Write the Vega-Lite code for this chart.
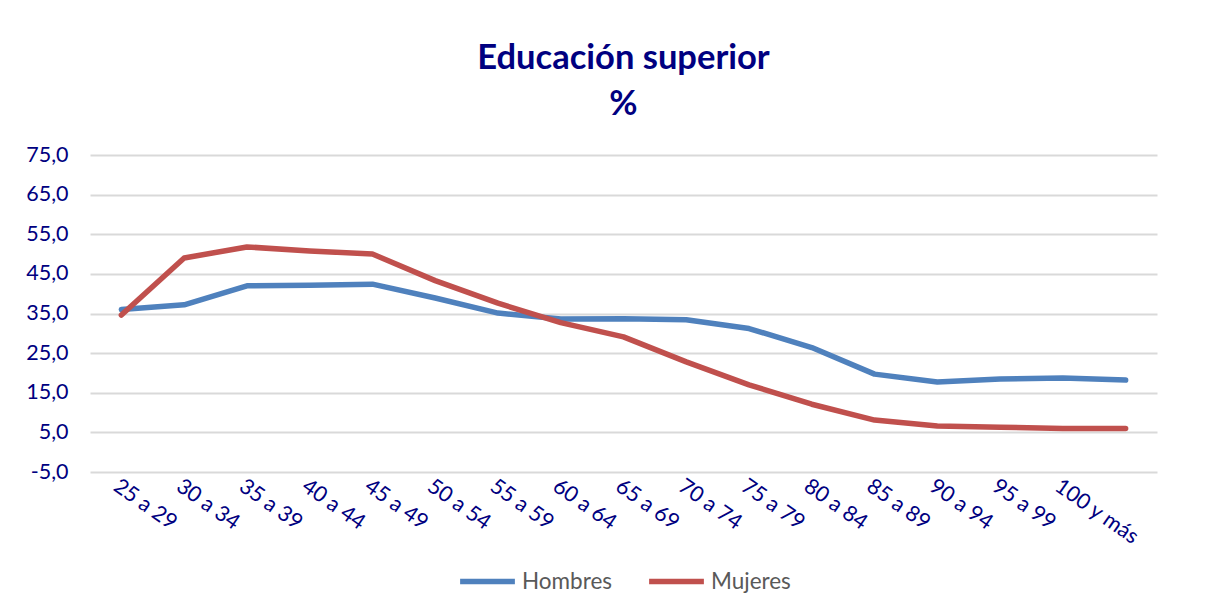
{
  "$schema": "https://vega.github.io/schema/vega-lite/v6.json",
  "autosize": {"type": "none"},
  "padding": {"left": 90, "top": 155, "right": 70, "bottom": 143},
  "width": 1067,
  "height": 317,
  "background": "white",
  "title": {
    "text": ["Educación superior", "%"],
    "font": "Lato",
    "fontSize": 34.5,
    "fontWeight": "bold",
    "color": "#000080",
    "lineHeight": 46,
    "anchor": "middle",
    "offset": 22
  },
  "data": {
    "values": [
      {"edad": "25 a 29", "sexo": "Hombres", "valor": 36.0},
      {"edad": "30 a 34", "sexo": "Hombres", "valor": 37.2},
      {"edad": "35 a 39", "sexo": "Hombres", "valor": 42.0},
      {"edad": "40 a 44", "sexo": "Hombres", "valor": 42.1},
      {"edad": "45 a 49", "sexo": "Hombres", "valor": 42.4},
      {"edad": "50 a 54", "sexo": "Hombres", "valor": 38.9},
      {"edad": "55 a 59", "sexo": "Hombres", "valor": 35.1},
      {"edad": "60 a 64", "sexo": "Hombres", "valor": 33.6},
      {"edad": "65 a 69", "sexo": "Hombres", "valor": 33.7},
      {"edad": "70 a 74", "sexo": "Hombres", "valor": 33.4},
      {"edad": "75 a 79", "sexo": "Hombres", "valor": 31.2},
      {"edad": "80 a 84", "sexo": "Hombres", "valor": 26.4},
      {"edad": "85 a 89", "sexo": "Hombres", "valor": 19.7},
      {"edad": "90 a 94", "sexo": "Hombres", "valor": 17.7},
      {"edad": "95 a 99", "sexo": "Hombres", "valor": 18.5},
      {"edad": "100 y más", "sexo": "Hombres", "valor": 18.7},
      {"edad": "", "sexo": "Hombres", "valor": 18.2},
      {"edad": "25 a 29", "sexo": "Mujeres", "valor": 34.6},
      {"edad": "30 a 34", "sexo": "Mujeres", "valor": 49.0},
      {"edad": "35 a 39", "sexo": "Mujeres", "valor": 51.8},
      {"edad": "40 a 44", "sexo": "Mujeres", "valor": 50.8},
      {"edad": "45 a 49", "sexo": "Mujeres", "valor": 50.0},
      {"edad": "50 a 54", "sexo": "Mujeres", "valor": 43.3},
      {"edad": "55 a 59", "sexo": "Mujeres", "valor": 37.6},
      {"edad": "60 a 64", "sexo": "Mujeres", "valor": 32.7},
      {"edad": "65 a 69", "sexo": "Mujeres", "valor": 29.1},
      {"edad": "70 a 74", "sexo": "Mujeres", "valor": 22.8},
      {"edad": "75 a 79", "sexo": "Mujeres", "valor": 17.0},
      {"edad": "80 a 84", "sexo": "Mujeres", "valor": 12.1},
      {"edad": "85 a 89", "sexo": "Mujeres", "valor": 8.1},
      {"edad": "90 a 94", "sexo": "Mujeres", "valor": 6.6},
      {"edad": "95 a 99", "sexo": "Mujeres", "valor": 6.3},
      {"edad": "100 y más", "sexo": "Mujeres", "valor": 6.0},
      {"edad": "", "sexo": "Mujeres", "valor": 6.0}
    ]
  },
  "mark": {"type": "line", "strokeWidth": 5.5, "strokeCap": "round", "strokeJoin": "round"},
  "encoding": {
    "x": {
      "field": "edad",
      "type": "ordinal",
      "sort": null,
      "scale": {"type": "point", "padding": 0.5},
      "axis": {
        "title": null,
        "labelAngle": 35,
        "labelAlign": "left",
        "labelBaseline": "top",
        "labelFont": "Lato",
        "labelFontSize": 21.5,
        "labelColor": "#000080",
        "labelPadding": 3,
        "ticks": false,
        "domain": false,
        "grid": false
      }
    },
    "y": {
      "field": "valor",
      "type": "quantitative",
      "scale": {"domain": [-5, 75], "nice": false, "zero": false},
      "axis": {
        "title": null,
        "values": [-5, 5, 15, 25, 35, 45, 55, 65, 75],
        "labelExpr": "replace(replace(format(datum.value, '.1f'), '.', ','), '−', '-')",
        "labelFont": "Lato",
        "labelFontSize": 21.5,
        "labelColor": "#000080",
        "labelPadding": 22,
        "ticks": false,
        "domain": false,
        "grid": true,
        "gridColor": "#D9D9D9",
        "gridWidth": 2
      }
    },
    "color": {
      "field": "sexo",
      "type": "nominal",
      "scale": {"domain": ["Hombres", "Mujeres"], "range": ["#4F81BD", "#C0504D"]},
      "legend": {
        "title": null,
        "orient": "bottom",
        "direction": "horizontal",
        "symbolType": "stroke",
        "symbolSize": 3000,
        "symbolStrokeWidth": 5.5,
        "labelFont": "Lato",
        "labelFontSize": 22.5,
        "labelColor": "#595959",
        "columnPadding": 25,
        "labelOffset": 4,
        "offset": 2
      }
    }
  },
  "config": {
    "view": {"stroke": null},
    "legend": {"layout": {"bottom": {"anchor": "middle"}}}
  }
}
